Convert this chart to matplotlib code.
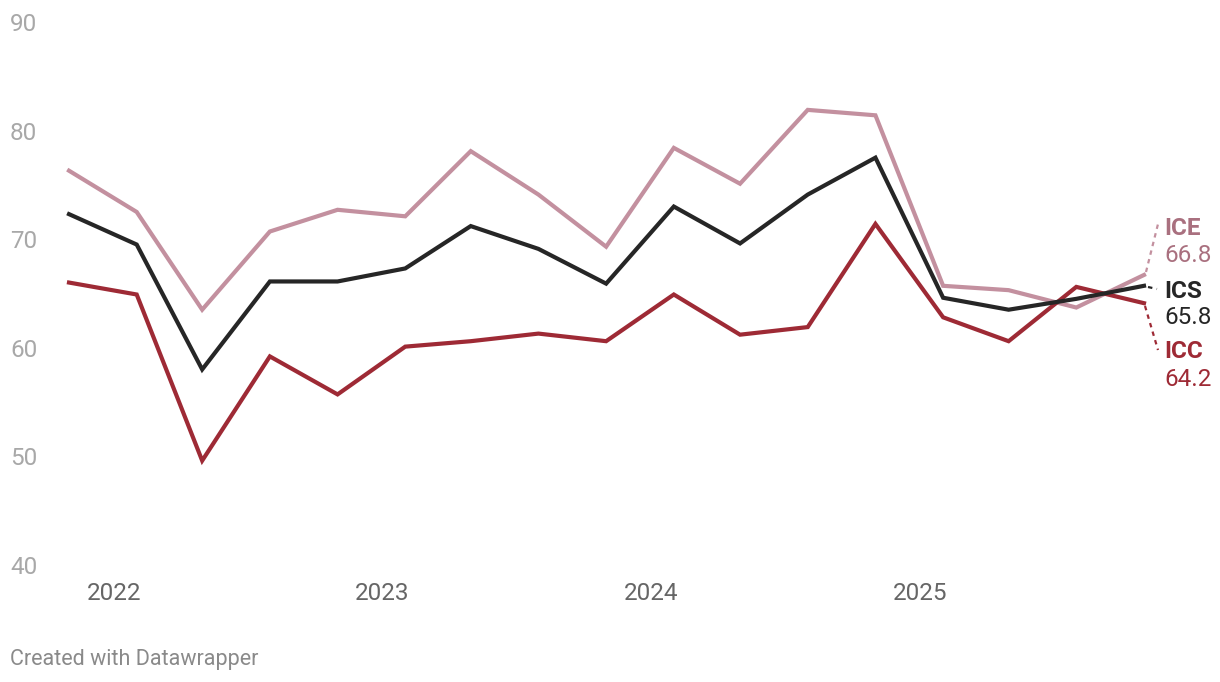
import matplotlib
matplotlib.use("Agg")
import matplotlib.pyplot as plt
import matplotlib.transforms as mtransforms
import numpy as np
import datetime as dt
import matplotlib.dates as mdates

plt.rcParams['font.family'] = ['Roboto', 'DejaVu Sans']

dates = ["2021-11-01", "2022-02-01", "2022-05-01", "2022-08-01", "2022-11-01",
         "2023-02-01", "2023-05-01", "2023-08-01", "2023-11-01",
         "2024-02-01", "2024-05-01", "2024-08-01", "2024-11-01",
         "2025-02-01", "2025-05-01", "2025-08-01", "2025-11-01"]
ice = [76.4, 72.6, 63.6, 70.8, 72.8, 72.2, 78.2, 74.2, 69.4, 78.5, 75.2, 82.0, 81.5, 65.8, 65.4, 63.8, 66.8]
ics = [72.4, 69.6, 58.1, 66.2, 66.2, 67.4, 71.3, 69.2, 66.0, 73.1, 69.7, 74.2, 77.6, 64.7, 63.6, 64.6, 65.8]
icc = [66.1, 65.0, 49.7, 59.3, 55.8, 60.2, 60.7, 61.4, 60.7, 65.0, 61.3, 62.0, 71.5, 62.9, 60.7, 65.7, 64.2]
yticks = [40, 50, 60, 70, 80, 90]
years = [2022, 2023, 2024, 2025]

x = [dt.datetime.strptime(d, "%Y-%m-%d") for d in dates]

W, H = 1220, 682
fig = plt.figure(figsize=(W / 100, H / 100), dpi=100)
left, right, top, bottom = 69, 1144, 23, 566
ax = fig.add_axes([left / W, 1 - bottom / H, (right - left) / W, (bottom - top) / H])
ax.set_xlim(x[0], x[-1])
ax.set_ylim(40, 90)
ax.axis('off')

c_ice = '#c3909f'
c_ice_t = '#a9707f'
c_ics = '#262626'
c_icc = '#9e2a35'

ax.plot(x, ice, color=c_ice, lw=3, clip_on=False, solid_joinstyle='miter', zorder=2)
ax.plot(x, icc, color=c_icc, lw=3, clip_on=False, solid_joinstyle='miter', zorder=3)
ax.plot(x, ics, color=c_ics, lw=3, clip_on=False, solid_joinstyle='miter', zorder=4)

FS = 17.5

def ftxt(X, Y, s, **kw):
    fig.text(X / W, 1 - Y / H, s, **kw)

# y labels
for t in yticks:
    ypix = H - ax.transData.transform((0, t))[1]
    ftxt(10, ypix + 1.5, str(t), ha='left', va='center', fontsize=FS, color='#a8a8a8')

# x labels
for yv in years:
    xpix = ax.transData.transform((mdates.date2num(dt.datetime(yv, 1, 1)), 0))[0]
    ftxt(xpix, 593, str(yv), ha='center', va='center', fontsize=FS, color='#666666')

# end labels
ftxt(1164, 229, "ICE", fontsize=FS, fontweight='bold', color=c_ice_t, va='center', ha='left')
ftxt(1164, 255, f"{ice[-1]:.1f}", fontsize=FS, color=c_ice_t, va='center', ha='left')
ftxt(1164, 291, "ICS", fontsize=FS, fontweight='bold', color=c_ics, va='center', ha='left')
ftxt(1164, 318, f"{ics[-1]:.1f}", fontsize=FS, color=c_ics, va='center', ha='left')
ftxt(1164, 352, "ICC", fontsize=FS, fontweight='bold', color=c_icc, va='center', ha='left')
ftxt(1164, 380, f"{icc[-1]:.1f}", fontsize=FS, color=c_icc, va='center', ha='left')

# connectors
trf = fig.transFigure
def conn(x0, y0, x1, y1, c):
    fig.add_artist(plt.Line2D([x0 / W, x1 / W], [1 - y0 / H, 1 - y1 / H], transform=trf,
                              color=c, lw=1.6, ls=(0, (2, 2))))
conn(1146, 272, 1158, 224, c_ice)
conn(1148, 287, 1157, 289, c_ics)
conn(1145, 306, 1158, 350, c_icc)

ftxt(10, 659, "Created with Datawrapper", fontsize=15.5, color='#8a8a8a', va='center', ha='left')

fig.savefig("out.png", dpi=100)
